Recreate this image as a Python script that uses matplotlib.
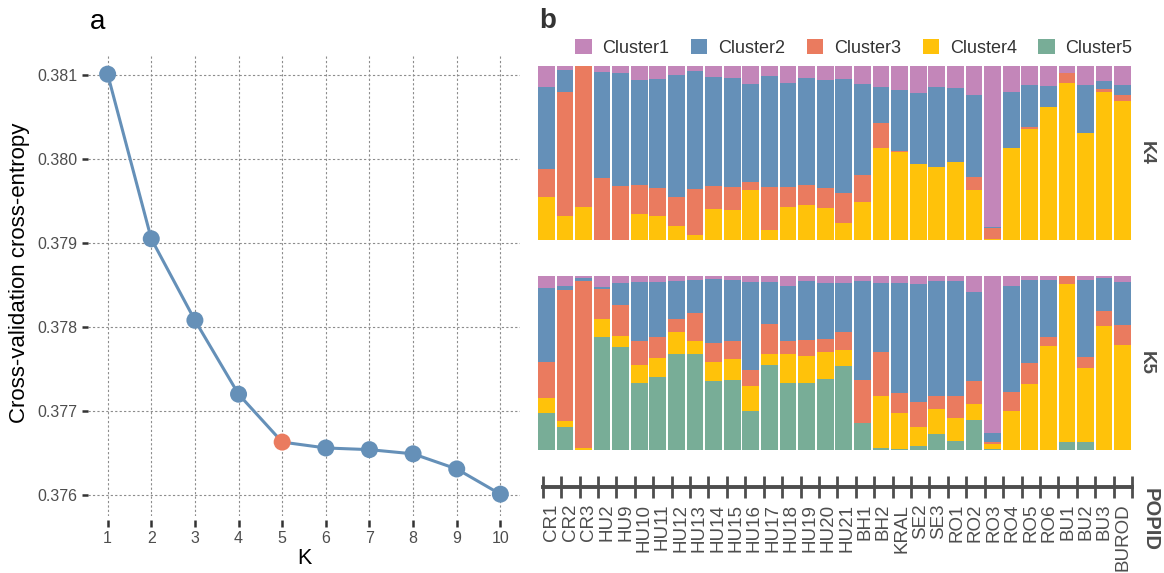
import numpy as np
import matplotlib
matplotlib.use("Agg")
import matplotlib.pyplot as plt
from matplotlib.patches import Patch

plt.rcParams['font.family'] = ['Liberation Sans', 'DejaVu Sans']

# ---- cross-validation error per K ----
k_values = [1, 2, 3, 4, 5, 6, 7, 8, 9, 10]
cv_error = [0.38101, 0.37905, 0.37808, 0.37720, 0.37663,
            0.37656, 0.37654, 0.37649, 0.37631, 0.37601]
best_k = 5

# ---- population ancestry proportions ----
populations = ["CR1", "CR2", "CR3", "HU2", "HU9", "HU10", "HU11", "HU12", "HU13",
               "HU14", "HU15", "HU16", "HU17", "HU18", "HU19", "HU20", "HU21",
               "BH1", "BH2", "KRAL", "SE2", "SE3", "RO1", "RO2", "RO3", "RO4",
               "RO5", "RO6", "BU1", "BU2", "BU3", "BUROD"]

cluster_names = ["Cluster1", "Cluster2", "Cluster3", "Cluster4", "Cluster5"]
cluster_colors = ["#C386B9", "#6590B8", "#EA7B5F", "#FFC20A", "#78AD97"]

# K = 4
k4_cluster1 = [0.121, 0.023, 0.000, 0.037, 0.039, 0.081, 0.077, 0.052, 0.029, 0.066, 0.071,
               0.106, 0.058, 0.098, 0.071, 0.083, 0.077, 0.104, 0.119, 0.137, 0.154, 0.121,
               0.125, 0.164, 0.928, 0.152, 0.110, 0.116, 0.040, 0.112, 0.087, 0.110]
k4_cluster2 = [0.471, 0.125, 0.000, 0.608, 0.653, 0.603, 0.626, 0.698, 0.678, 0.622, 0.625,
               0.559, 0.640, 0.600, 0.611, 0.616, 0.653, 0.522, 0.209, 0.353, 0.411, 0.459,
               0.424, 0.474, 0.001, 0.320, 0.241, 0.117, 0.000, 0.271, 0.048, 0.054]
k4_cluster3 = [0.163, 0.713, 0.809, 0.355, 0.308, 0.164, 0.158, 0.169, 0.264, 0.135, 0.129,
               0.046, 0.244, 0.111, 0.118, 0.118, 0.170, 0.154, 0.144, 0.003, 0.001, 0.002,
               0.004, 0.075, 0.063, 0.002, 0.009, 0.002, 0.058, 0.002, 0.013, 0.038]
k4_cluster4 = [0.245, 0.139, 0.191, 0.000, 0.000, 0.152, 0.139, 0.081, 0.029, 0.177, 0.175,
               0.289, 0.058, 0.191, 0.200, 0.183, 0.100, 0.220, 0.528, 0.507, 0.434, 0.418,
               0.447, 0.287, 0.008, 0.526, 0.640, 0.765, 0.902, 0.615, 0.852, 0.798]

# K = 5
k5_cluster1 = [0.067, 0.056, 0.013, 0.062, 0.039, 0.037, 0.035, 0.027, 0.023, 0.017, 0.023,
               0.037, 0.037, 0.056, 0.027, 0.040, 0.042, 0.029, 0.042, 0.039, 0.046, 0.029,
               0.027, 0.091, 0.904, 0.060, 0.023, 0.025, 0.000, 0.023, 0.010, 0.037]
k5_cluster2 = [0.426, 0.025, 0.016, 0.013, 0.125, 0.337, 0.316, 0.218, 0.189, 0.366, 0.349,
               0.506, 0.239, 0.316, 0.343, 0.320, 0.278, 0.568, 0.397, 0.633, 0.680, 0.663,
               0.665, 0.510, 0.050, 0.609, 0.476, 0.328, 0.000, 0.443, 0.192, 0.242]
k5_cluster3 = [0.208, 0.755, 0.958, 0.170, 0.181, 0.137, 0.119, 0.077, 0.164, 0.112, 0.104,
               0.091, 0.173, 0.077, 0.091, 0.079, 0.106, 0.245, 0.251, 0.118, 0.141, 0.073,
               0.123, 0.135, 0.013, 0.109, 0.121, 0.052, 0.048, 0.060, 0.083, 0.120]
k5_cluster4 = [0.087, 0.029, 0.013, 0.106, 0.063, 0.104, 0.108, 0.125, 0.075, 0.106, 0.121,
               0.144, 0.065, 0.164, 0.156, 0.153, 0.092, 0.000, 0.300, 0.204, 0.112, 0.144,
               0.133, 0.089, 0.025, 0.222, 0.380, 0.595, 0.904, 0.426, 0.715, 0.601]
k5_cluster5 = [0.212, 0.135, 0.000, 0.649, 0.592, 0.385, 0.422, 0.553, 0.549, 0.399, 0.403,
               0.222, 0.486, 0.387, 0.383, 0.408, 0.482, 0.158, 0.010, 0.006, 0.021, 0.091,
               0.052, 0.175, 0.008, 0.000, 0.000, 0.000, 0.048, 0.048, 0.000, 0.000]

k4_props = [k4_cluster1, k4_cluster2, k4_cluster3, k4_cluster4]
k5_props = [k5_cluster1, k5_cluster2, k5_cluster3, k5_cluster4, k5_cluster5]

W, H = 1164, 573
fig = plt.figure(figsize=(W / 100, H / 100), dpi=100)


def px_axes(x0, y0, x1, y1):
    """Add axes given pixel box (left, top, right, bottom)."""
    return fig.add_axes([x0 / W, 1 - y1 / H, (x1 - x0) / W, (y1 - y0) / H])


tick_grey = "#4D4D4D"
line_blue = "#6590B8"
highlight = "#EA7B5F"

# ---------------- panel a ----------------
ax = px_axes(88, 54, 520, 516)
ax.plot(k_values, cv_error, color=line_blue, lw=2.2, zorder=3)
pt_colors = [highlight if k == best_k else line_blue for k in k_values]
ax.scatter(k_values, cv_error, s=150, c=pt_colors, zorder=4, linewidths=0)
ax.set_xlim(0.55, 10.45)
ax.set_ylim(0.37575, 0.38125)
ax.set_xticks(k_values)
ax.set_yticks([0.376, 0.377, 0.378, 0.379, 0.380, 0.381])
ax.set_yticklabels(["0.376", "0.377", "0.378", "0.379", "0.380", "0.381"])
ax.grid(True, color="#8C8C8C", lw=0.8, linestyle=(0, (2, 2)))
ax.set_axisbelow(True)
for s in ax.spines.values():
    s.set_visible(False)
ax.spines['bottom'].set_position(('outward', 3))
ax.tick_params(axis='both', colors="#333333", width=1.8, labelsize=11.5,
               labelcolor=tick_grey)
ax.tick_params(axis='x', length=5, pad=3)
ax.tick_params(axis='y', length=4.5, pad=3)
ax.set_xlabel("K", fontsize=15.5, labelpad=1)
fig.text(20 / W, 1 - 273 / H, "Cross-validation cross-entropy", rotation=90,
         fontsize=16, ha='center', va='center')
fig.text(98 / W, 1 - 22 / H, "a", fontsize=20, ha='center', va='center')

# ---------------- panel b ----------------
fig.text(548 / W, 1 - 21 / H, "b", fontsize=20, fontweight='bold',
         color="#333333", ha='center', va='center')

x = np.arange(len(populations))


def draw_admixture(axb, props, label):
    props = np.array(props)
    props = props / props.sum(axis=0)
    bottom = np.zeros(len(populations))
    # highest-numbered cluster sits at the bottom of the stack
    for idx in range(len(props) - 1, -1, -1):
        axb.bar(x, props[idx], bottom=bottom, width=0.9,
                color=cluster_colors[idx], linewidth=0)
        bottom += props[idx]
    axb.set_xlim(-0.5, len(populations) - 0.5)
    axb.set_ylim(0, 1)
    axb.axis('off')
    axb.text(1.0 + 14 / 595, 0.5, label, transform=axb.transAxes, rotation=270,
             fontsize=13.5, fontweight='bold', color=tick_grey,
             ha='center', va='center')


ax4 = px_axes(537, 66, 1132, 240)
draw_admixture(ax4, k4_props, "K4")
ax5 = px_axes(537, 276, 1132, 450)
draw_admixture(ax5, k5_props, "K5")

# population axis
axp = px_axes(542.7, 480, 1132, 487)
axp.set_xlim(0, len(populations))
axp.set_ylim(0, 1)
for name in ['top', 'left', 'right']:
    axp.spines[name].set_visible(False)
axp.spines['bottom'].set_linewidth(2.8)
axp.spines['bottom'].set_color(tick_grey)
axp.patch.set_alpha(0)
axp.set_yticks([])
axp.set_xticks(np.arange(len(populations) + 1))
axp.set_xticklabels([])
axp.tick_params(axis='x', which='major', direction='inout', length=16, width=2,
                color=tick_grey)
axp.set_xticks(np.arange(len(populations)) + 0.5, minor=True)
axp.set_xticklabels(populations, minor=True, rotation=90, fontsize=13.5,
                    color=tick_grey, va='top', ha='center')
axp.tick_params(axis='x', which='minor', length=0, pad=12)
fig.text(1150 / W, 1 - 519 / H, "POPID", rotation=270, fontsize=14.5,
         fontweight='bold', color=tick_grey, ha='center', va='center')

# legend
handles = [Patch(facecolor=c, edgecolor='none') for c in cluster_colors]
fig.legend(handles, cluster_names, ncol=5, loc='center',
           bbox_to_anchor=(854 / W, 1 - 48 / H), frameon=False, fontsize=13,
           handlelength=0.9, handleheight=0.9, handletextpad=0.6,
           columnspacing=1.2, labelcolor="#333333")

fig.savefig("out.png", dpi=100)
